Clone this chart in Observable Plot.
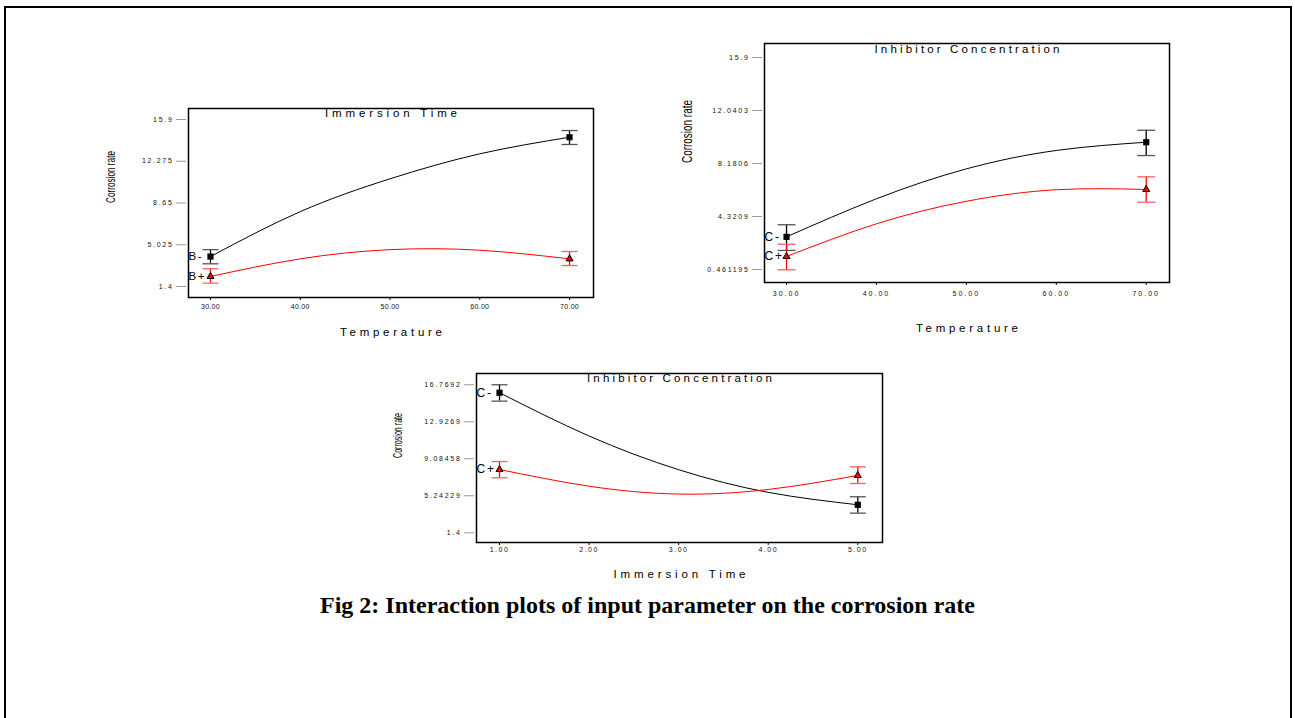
<!DOCTYPE html>
<html>
<head>
<meta charset="utf-8">
<script src="https://cdn.jsdelivr.net/npm/d3@7"></script>
<script src="https://cdn.jsdelivr.net/npm/@observablehq/plot@0.6"></script>
<style>
html, body { margin: 0; padding: 0; background: #fff; overflow: hidden; }
#page { position: relative; width: 1295px; height: 718px; overflow: hidden; background: #fff; }
#border { position: absolute; left: 4px; top: 6px; width: 1284px; height: 800px; border: 2px solid #000; border-bottom: none; }
.chart { position: absolute; }
#caption { position: absolute; left: 0; width: 1295px; top: 592px; line-height: 28px; text-align: center;
  font: bold 24px "Liberation Serif", "Times New Roman", serif; color: #000; }
</style>
</head>
<body>
<div id="page">
  <div id="border"></div>
  <div id="c1" class="chart"></div>
  <div id="c2" class="chart"></div>
  <div id="c3" class="chart"></div>
  <div id="caption">Fig 2: Interaction plots of input parameter on the corrosion rate</div>
</div>
<script>
// ---------------- DATA ----------------
// Chart 1: Temperature x Immersion Time
const temperature = [30, 70];
const temperatureCurveX = [30, 40, 50, 60, 70];
const tempTicks = [30, 40, 50, 60, 70];

const c1Ticks = [1.4, 5.025, 8.65, 12.275, 15.9];
const c1TickLabels = ["1.4", "5.025", "8.65", "12.275", "15.9"];
const c1BminusMean = [4.0, 14.36];
const c1BminusLo = [3.37, 13.73];
const c1BminusHi = [4.6, 14.94];
const c1BminusCurve = [4.0, 7.9, 10.75, 12.92, 14.36];
const c1BplusMean = [2.27, 3.8];
const c1BplusLo = [1.69, 3.22];
const c1BplusHi = [2.94, 4.44];
const c1BplusCurve = [2.27, 3.8, 4.6, 4.55, 3.8];

// Chart 2: Temperature x Inhibitor Concentration
const c2Ticks = [0.461195, 4.3209, 8.1806, 12.0403, 15.9];
const c2TickLabels = ["0.461195", "4.3209", "8.1806", "12.0403", "15.9"];
const c2CminusMean = [2.84, 9.73];
const c2CminusLo = [1.85, 8.76];
const c2CminusHi = [3.72, 10.6];
const c2CminusCurve = [2.84, 5.61, 7.79, 9.13, 9.73];
const c2CplusMean = [1.41, 6.29];
const c2CplusLo = [0.44, 5.36];
const c2CplusHi = [2.30, 7.21];
const c2CplusCurve = [1.41, 3.79, 5.43, 6.27, 6.29];

// Chart 3: Immersion Time x Inhibitor Concentration
const immersion = [1, 5];
const immersionCurveX = [1, 2, 3, 4, 5];
const immersionTicks = [1, 2, 3, 4, 5];
const c3Ticks = [1.4, 5.24229, 9.08458, 12.9269, 16.7692];
const c3TickLabels = ["1.4", "5.24229", "9.08458", "12.9269", "16.7692"];
const c3CminusMean = [15.94, 4.31];
const c3CminusLo = [15.07, 3.44];
const c3CminusHi = [16.77, 5.14];
const c3CminusCurve = [15.94, 11.45, 7.95, 5.6, 4.31];
const c3CplusMean = [7.97, 7.35];
const c3CplusLo = [7.11, 6.52];
const c3CplusHi = [8.80, 8.25];
const c3CplusCurve = [7.97, 6.24, 5.42, 5.9, 7.35];

// ---------------- LAYOUT / STYLE ----------------
const FONT = "Arial, 'Liberation Sans', Helvetica, sans-serif";
const capSymbol = {
  draw(ctx, size) { const r = Math.sqrt(size / Math.PI); ctx.moveTo(-r, 0); ctx.lineTo(r, 0); }
};

const configs = [
  {
    el: "c1", title: "Immersion Time", xLabel: "Temperature", yLabel: "Corrosion rate",
    left: 98, top: 98, frameW: 405, frameH: 189, mb: 45,
    xDomain: [27.55, 72.67], yDomain: [0.445, 16.855],
    xTicks: tempTicks, yTicks: c1Ticks, yTickLabels: c1TickLabels,
    xTickPad: 4, xTickLS: 0.3, titleDy: 5, xLabelDy: 35, yLabelDx: -78,
    titleLen: 132, xLabelLen: 102, yLabelLen: 52, yLabelSize: 13, capR: 8,
    ptLabelSize: 11.5, ptLabelLS: 1.5,
    x: temperature, curveX: temperatureCurveX,
    series: [
      { name: "B-", color: "#000", capColor: "#555", marker: "square", mean: c1BminusMean, lo: c1BminusLo, hi: c1BminusHi, curve: c1BminusCurve },
      { name: "B+", color: "#ff0000", capColor: "#ff6060", marker: "triangle", mean: c1BplusMean, lo: c1BplusLo, hi: c1BplusHi, curve: c1BplusCurve }
    ]
  },
  {
    el: "c2", title: "Inhibitor Concentration", xLabel: "Temperature", yLabel: "Corrosion rate",
    left: 674, top: 33, frameW: 405, frameH: 239, mb: 55,
    xDomain: [27.55, 72.59], yDomain: [-0.486, 16.92],
    xTicks: tempTicks, yTicks: c2Ticks, yTickLabels: c2TickLabels,
    xTickPad: 6, xTickLS: 2, titleDy: 6.3, xLabelDy: 46, yLabelDx: -77,
    titleLen: 185, xLabelLen: 102, yLabelLen: 63, yLabelSize: 15, capR: 9,
    ptLabelSize: 12, ptLabelLS: 1.8,
    x: temperature, curveX: temperatureCurveX,
    series: [
      { name: "C-", color: "#000", capColor: "#555", marker: "square", mean: c2CminusMean, lo: c2CminusLo, hi: c2CminusHi, curve: c2CminusCurve },
      { name: "C+", color: "#ff0000", capColor: "#ff6060", marker: "triangle", mean: c2CplusMean, lo: c2CplusLo, hi: c2CplusHi, curve: c2CplusCurve }
    ]
  },
  {
    el: "c3", title: "Inhibitor Concentration", xLabel: "Immersion Time", yLabel: "Corrosion rate",
    left: 386, top: 363, frameW: 406, frameH: 169, mb: 45,
    xDomain: [0.743, 5.276], yDomain: [0.393, 17.94],
    xTicks: immersionTicks, yTicks: c3Ticks, yTickLabels: c3TickLabels,
    xTickPad: 1.5, xTickLS: 1.5, titleDy: 5.3, xLabelDy: 32, yLabelDx: -79,
    titleLen: 185, xLabelLen: 132, yLabelLen: 45, yLabelSize: 12.5, capR: 8,
    ptLabelSize: 12, ptLabelLS: 1.8,
    x: immersion, curveX: immersionCurveX,
    series: [
      { name: "C-", color: "#000", capColor: "#555", marker: "square", mean: c3CminusMean, lo: c3CminusLo, hi: c3CminusHi, curve: c3CminusCurve },
      { name: "C+", color: "#ff0000", capColor: "#ff6060", marker: "triangle", mean: c3CplusMean, lo: c3CplusLo, hi: c3CplusHi, curve: c3CplusCurve }
    ]
  }
];

function drawChart(cfg) {
  const ML = 90, MR = 10, MT = 10;
  const width = ML + cfg.frameW + MR;
  const height = MT + cfg.frameH + cfg.mb;
  const marks = [];

  marks.push(Plot.axisY(cfg.yTicks, {
    tickSize: 10, tickPadding: 3, dx: -2, fontSize: 7, label: null,
    stroke: "#999", fill: "#111",
    tickFormat: d => cfg.yTickLabels[cfg.yTicks.indexOf(d)]
  }));
  marks.push(Plot.axisX(cfg.xTicks, {
    tickSize: 3, tickPadding: cfg.xTickPad, fontSize: 7, label: null,
    stroke: "#000", fill: "#111",
    tickFormat: d3.format(".2f")
  }));

  for (const s of cfg.series) {
    const curveRows = cfg.curveX.map((x, i) => ({ x, y: s.curve[i] }));
    const ptRows = cfg.x.map((x, i) => ({ x, y: s.mean[i], lo: s.lo[i], hi: s.hi[i] }));
    marks.push(Plot.line(curveRows, { x: "x", y: "y", stroke: s.color, strokeWidth: 1, curve: "natural" }));
    marks.push(Plot.ruleX(ptRows, { x: "x", y1: "lo", y2: "hi", stroke: s.color, strokeWidth: 1.3 }));
    marks.push(Plot.dot(ptRows, { x: "x", y: "lo", symbol: capSymbol, r: cfg.capR, fill: "none", stroke: s.capColor, strokeWidth: 1.3 }));
    marks.push(Plot.dot(ptRows, { x: "x", y: "hi", symbol: capSymbol, r: cfg.capR, fill: "none", stroke: s.capColor, strokeWidth: 1.3 }));
    if (s.marker === "square") {
      marks.push(Plot.dot(ptRows, { x: "x", y: "y", symbol: "square", r: 3.5, fill: "#000", stroke: "none" }));
    } else {
      marks.push(Plot.dot(ptRows, { x: "x", y: "y", symbol: "triangle", r: 2.6, fill: "#ff0000", stroke: "#000", strokeWidth: 1 }));
    }
    marks.push(Plot.text([ptRows[0]], {
      y: "y", text: () => s.name, frameAnchor: "left", textAnchor: "start",
      fontSize: cfg.ptLabelSize, fill: "#000"
    }));
  }

  marks.push(Plot.frame({ stroke: "#000", strokeWidth: 1.5 }));
  marks.push(Plot.text([cfg.title], { text: d => d, frameAnchor: "top", dy: cfg.titleDy, lineAnchor: "middle", fontSize: 11.5, fill: "#000" }));
  marks.push(Plot.text([cfg.xLabel], { text: d => d, frameAnchor: "bottom", dy: cfg.xLabelDy, lineAnchor: "middle", fontSize: 11.5, fill: "#000" }));
  marks.push(Plot.text([cfg.yLabel], { text: d => d, frameAnchor: "left", dx: cfg.yLabelDx, rotate: -90, lineAnchor: "middle", fontSize: cfg.yLabelSize, fill: "#000" }));

  const svg = Plot.plot({
    width, height, marginLeft: ML, marginRight: MR, marginTop: MT, marginBottom: cfg.mb,
    x: { domain: cfg.xDomain },
    y: { domain: cfg.yDomain },
    style: { fontFamily: FONT, background: "transparent", overflow: "visible", color: "#000" },
    marks
  });

  // text fine-tuning (letter spacing / lengths as in the reference)
  svg.querySelectorAll('[aria-label="y-axis tick label"] text').forEach(t => t.style.letterSpacing = "1.7px");
  svg.querySelectorAll('[aria-label="x-axis tick label"] text').forEach(t => t.style.letterSpacing = cfg.xTickLS + "px");
  const texts = Array.from(svg.querySelectorAll('[aria-label="text"] text'));
  for (const t of texts) {
    const s = t.textContent;
    if (s === cfg.title || s === cfg.xLabel) {
      t.setAttribute("textLength", s === cfg.title ? cfg.titleLen : cfg.xLabelLen);
      t.setAttribute("lengthAdjust", "spacing");
    }
    if (s === cfg.yLabel) {
      t.setAttribute("textLength", cfg.yLabelLen); t.setAttribute("lengthAdjust", "spacingAndGlyphs");
    }
    if (cfg.series.some(se => se.name === s)) {
      t.style.letterSpacing = cfg.ptLabelLS + "px";
    }
  }

  const host = document.getElementById(cfg.el);
  host.style.left = cfg.left + "px";
  host.style.top = cfg.top + "px";
  host.appendChild(svg);
}

configs.forEach(drawChart);
</script>
</body>
</html>
